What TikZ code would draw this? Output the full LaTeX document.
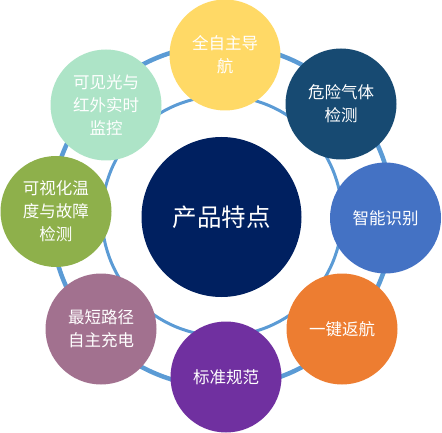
\documentclass[tikz,border=0pt]{standalone}
\usepackage{fontspec}
\newfontfamily\cjk{Noto Sans CJK SC}
\definecolor{ringblue}{HTML}{5B9BD5}
\definecolor{cyellow}{HTML}{FFD966}
\definecolor{cdarkblue}{HTML}{174A72}
\definecolor{cblue}{HTML}{4472C4}
\definecolor{corange}{HTML}{ED7D31}
\definecolor{cpurple}{HTML}{7030A0}
\definecolor{cmauve}{HTML}{A2718F}
\definecolor{cgreen}{HTML}{8EB04B}
\definecolor{cmint}{HTML}{ADE4C7}
\definecolor{cnavy}{HTML}{002060}
\tikzset{
  sat/.style={circle, fill=#1, draw=none, minimum size=111pt, inner sep=0pt,
    align=center, text=white, font=\cjk\fontsize{16.5}{23}\selectfont},
  hub/.style={circle, fill=cnavy, draw=none, minimum size=160pt, inner sep=0pt,
    align=center, text=white, font=\cjk\fontsize{24.5}{30}\selectfont},
  ringline/.style={draw=ringblue}
}
\begin{document}
\begin{tikzpicture}[x=1pt,y=-1pt]
\useasboundingbox (0,0) rectangle (442,433);
\coordinate (rc) at (222,216);
\draw[ringline, line width=4.5pt] (rc) circle[radius=171];
\draw[ringline, line width=3pt] (rc) circle[radius=120];
\node[hub] (hub) at (221.5,217) {产品特点};
\node[sat=cyellow] (s1) at (225,55) {全自主导\\航};
\node[sat=cdarkblue] (s2) at (341,104) {危险气体\\检测};
\node[sat=cblue] (s3) at (385.5,218) {智能识别};
\node[sat=corange] (s4) at (342,329) {一键返航};
\node[sat=cpurple] (s5) at (226,377) {标准规范};
\node[sat=cmauve] (s6) at (101,329) {最短路径\\自主充电};
\node[sat=cgreen] (s7) at (56,211.5) {可视化温\\度与故障\\检测};
\node[sat=cmint] (s8) at (106,105) {可见光与\\红外实时\\监控};
\end{tikzpicture}
\end{document}
